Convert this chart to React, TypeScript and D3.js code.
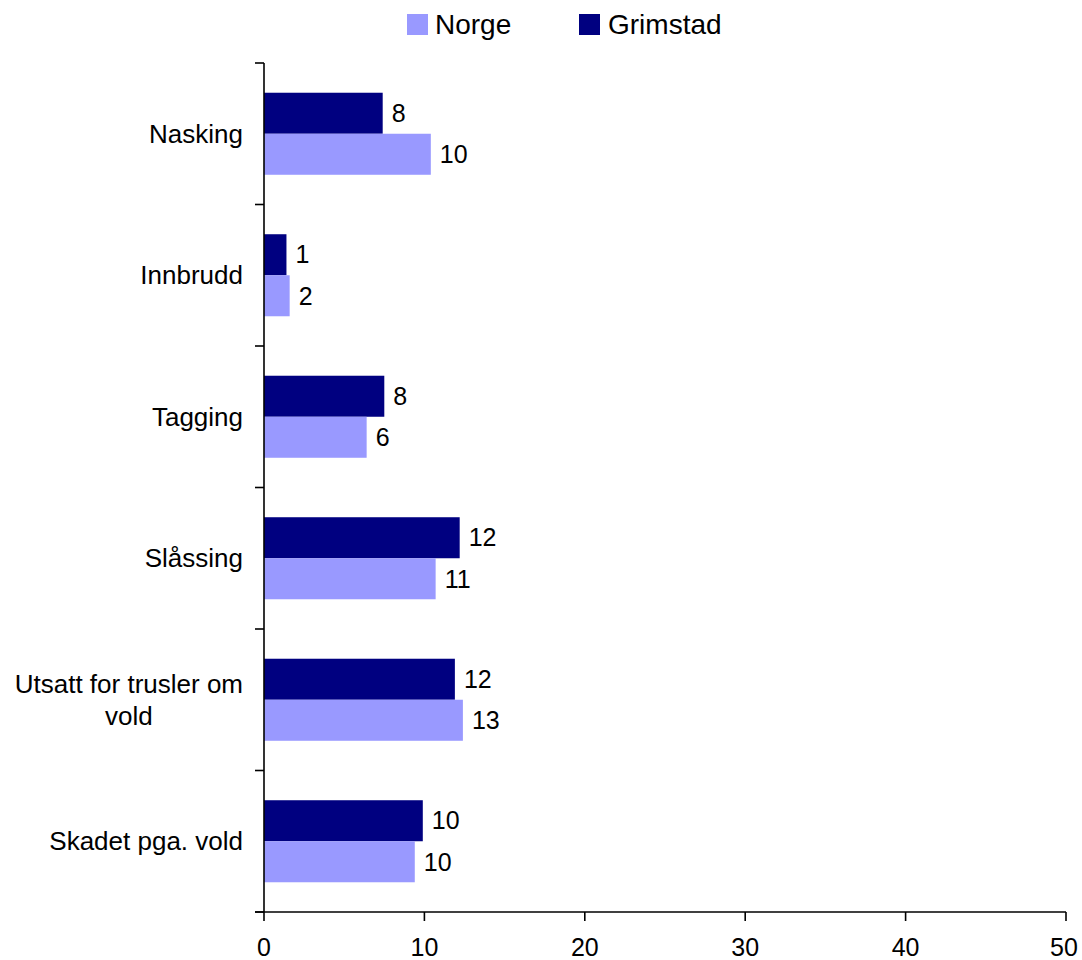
import React, { useMemo } from "react";
import * as d3 from "d3";

const categories = ["Nasking", "Innbrudd", "Tagging", "Slåssing", "Utsatt for trusler om vold", "Skadet pga. vold"];
const categoryLines = [["Nasking"], ["Innbrudd"], ["Tagging"], ["Slåssing"], ["Utsatt for trusler om", "vold"], ["Skadet pga. vold"]];
const seriesNames = ["Grimstad", "Norge"];
const grimstadValues = [7.4, 1.4, 7.5, 12.2, 11.9, 9.9];
const norgeValues = [10.4, 1.6, 6.4, 10.7, 12.4, 9.4];
const grimstadLabels = ["8", "1", "8", "12", "12", "10"];
const norgeLabels = ["10", "2", "6", "11", "13", "10"];
const xTicks = [0, 10, 20, 30, 40, 50];
const legendItems = ["Norge", "Grimstad"];

const colors: Record<string, string> = { Grimstad: "#000080", Norge: "#9999FF" };
const FONT = "Arial, 'Liberation Sans', sans-serif";
const FS = 25;
const CAT_FS = 26;
const LEG_FS = 28;

export default function App() {
  const W = 1082, H = 960;
  const x = d3.scaleLinear().domain([0, 50]).range([264, 1066]);
  const y = d3.scaleBand<string>().domain(categories).range([63, 912]).padding(0);
  const inner = d3.scaleBand<string>().domain(seriesNames).range([0, y.bandwidth()]).paddingInner(0).paddingOuter(0.725);

  const measure = useMemo(() => {
    const c = document.createElement("canvas").getContext("2d")!;
    c.font = `${CAT_FS}px Arial, 'Liberation Sans', sans-serif`;
    return (s: string) => c.measureText(s).width;
  }, []);

  const values: Record<string, number[]> = { Grimstad: grimstadValues, Norge: norgeValues };
  const labels: Record<string, string[]> = { Grimstad: grimstadLabels, Norge: norgeLabels };

  const axisX = x(0);
  const axisY = 912;

  return (
    <svg width={W} height={H} style={{ position: "absolute", left: 0, top: 0, background: "#fff" }} fontFamily={FONT}>
      {/* legend */}
      {(() => {
        const pos: Record<string, [number, number]> = { Norge: [407, 435], Grimstad: [579, 608] };
        return legendItems.map((s) => (
          <g key={s}>
            <rect x={pos[s][0]} y={14} width={21} height={21} fill={colors[s]} />
            <text x={pos[s][1]} y={34} fontSize={LEG_FS} fill="#000">{s}</text>
          </g>
        ));
      })()}

      {/* bars */}
      {categories.map((c, i) => (
        <g key={c} transform={`translate(0,${y(c)})`}>
          {seriesNames.map((s) => {
            const v = values[s][i];
            const by = inner(s)!;
            const bh = inner.bandwidth();
            return (
              <g key={s}>
                <rect x={x(0)} y={by} width={x(v) - x(0)} height={bh} fill={colors[s]} />
                <text x={x(v) + 9} y={by + bh / 2} dy="0.35em" fontSize={FS} fill="#000">{labels[s][i]}</text>
              </g>
            );
          })}
        </g>
      ))}

      {/* y axis */}
      <line x1={axisX} x2={axisX} y1={63} y2={axisY} stroke="#000" strokeWidth={1.6} />
      {[...categories.map((c) => y(c)!), 912].map((t, i) => (
        <line key={i} x1={255} x2={axisX} y1={t} y2={t} stroke="#000" strokeWidth={1.6} />
      ))}
      {categories.map((c, i) => {
        const lines = categoryLines[i];
        const cy = y(c)! + y.bandwidth() / 2;
        const lh = 32;
        const maxW = Math.max(...lines.map(measure));
        const right = 243;
        const cx = right - maxW / 2;
        const firstBase = cy + 9 - ((lines.length - 1) * lh) / 2;
        return (
          <text key={c} fontSize={CAT_FS} fill="#000" textAnchor={lines.length > 1 ? "middle" : "end"}>
            {lines.map((l, j) => (
              <tspan key={j} x={lines.length > 1 ? cx : right} y={firstBase + j * lh}>{l}</tspan>
            ))}
          </text>
        );
      })}

      {/* x axis */}
      <line x1={255} x2={x(50)} y1={axisY} y2={axisY} stroke="#000" strokeWidth={1.6} />
      {xTicks.map((t) => (
        <g key={t}>
          <line x1={x(t)} x2={x(t)} y1={axisY} y2={axisY + 9} stroke="#000" strokeWidth={1.6} />
          <text x={t === 50 ? x(t) - 2 : x(t)} y={956} fontSize={FS} textAnchor="middle" fill="#000">{t}</text>
        </g>
      ))}
    </svg>
  );
}
